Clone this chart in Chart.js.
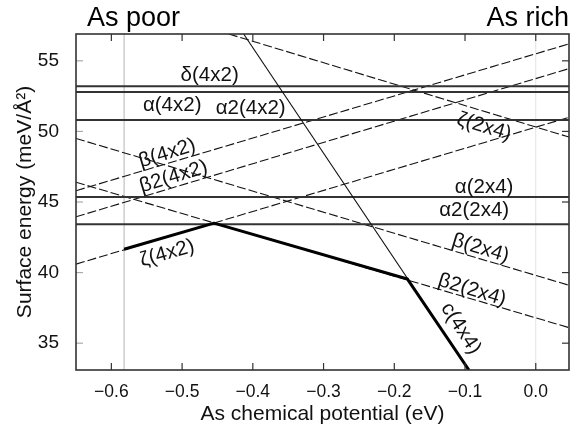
<!DOCTYPE html>
<html>
<head>
<meta charset="utf-8">
<script src="https://cdn.jsdelivr.net/npm/chart.js@4.4.1/dist/chart.umd.min.js"></script>
<style>
  html, body { margin: 0; padding: 0; background: #fff; }
  #wrap { width: 574px; height: 430px; }
</style>
</head>
<body>
<div id="wrap"><canvas id="chart" width="574" height="430"></canvas></div>
<script>
// axis range and ticks (As chemical potential in eV, surface energy in meV/A^2)
const muRange = [-0.65, 0.047];
const energyRange = [33.1, 56.9];
const xTicks = [-0.6, -0.5, -0.4, -0.3, -0.2, -0.1, 0.0];
const yTicks = [35, 40, 45, 50, 55];

// stoichiometric phases: flat lines
const flatNames = ["δ(4x2)", "α(4x2)", "α2(4x2)", "α(2x4)", "α2(2x4)"];
const flatEnergy = [53.2, 52.8, 50.8, 45.35, 43.42];

// sloped phases: energy at start / end of the visible stretch
const slopedNames = ["ζ(4x2)", "β(4x2)", "β2(4x2)", "ζ(2x4)", "β(2x4)", "β2(2x4)"];
const slopedMuStart = [-0.65, -0.65, -0.65, -0.434, -0.65, -0.65];
const slopedMuEnd = [0.047, 0.047, 0.047, 0.047, 0.047, 0.047];
const slopedStart = [40.6, 45.8, 43.95, 56.9, 49.5, 46.4];
const slopedEnd = [51.0, 56.2, 54.45, 49.6, 39.1, 36.1];

// c(4x4), steep
const c4x4Mu = [-0.413, -0.0945];
const c4x4E = [56.9, 33.1];

// lowest-energy envelope (thick)
const envelopeMu = [-0.582, -0.455, -0.1816, -0.0945];
const envelopeE = [41.65, 43.5, 39.55, 33.1];

// thin grey markers
const markerMu = [-0.582, 0.0];
const markerColors = ["#b4b4b4", "#e2e2e2"];

// in-plot labels: text, mu, energy, rotation in degrees
const notes = [
  ["δ(4x2)", -0.461, 53.99, 0],
  ["α(4x2)", -0.514, 51.86, 0],
  ["α2(4x2)", -0.403, 51.63, 0],
  ["β(4x2)", -0.521, 48.44, -17],
  ["β2(4x2)", -0.512, 46.78, -17],
  ["ζ(4x2)", -0.521, 41.36, -16],
  ["ζ(2x4)", -0.073, 50.32, 17],
  ["α(2x4)", -0.073, 46.07, 0],
  ["α2(2x4)", -0.087, 44.42, 0],
  ["β(2x4)", -0.078, 41.71, 17],
  ["β2(2x4)", -0.090, 38.76, 17],
  ["c(4x4)", -0.106, 36.04, 57],
];

const FONT = "'Liberation Sans', Arial, sans-serif";

const datasets = [];

markerMu.forEach((mu, i) => {
  datasets.push({
    data: [{ x: mu, y: energyRange[0] }, { x: mu, y: energyRange[1] }],
    borderColor: markerColors[i],
    borderWidth: 1,
    order: 5,
  });
});

slopedNames.forEach((name, i) => {
  datasets.push({
    label: name,
    data: [{ x: slopedMuStart[i], y: slopedStart[i] }, { x: slopedMuEnd[i], y: slopedEnd[i] }],
    borderColor: "#111",
    borderWidth: 1.1,
    borderDash: [9, 3],
    order: 4,
  });
});

flatNames.forEach((name, i) => {
  datasets.push({
    label: name,
    data: [{ x: muRange[0], y: flatEnergy[i] }, { x: muRange[1], y: flatEnergy[i] }],
    borderColor: "#333",
    borderWidth: 2,
    order: 3,
  });
});

datasets.push({
  label: "c(4x4)",
  data: c4x4Mu.map((mu, i) => ({ x: mu, y: c4x4E[i] })),
  borderColor: "#111",
  borderWidth: 1.1,
  order: 2,
});

datasets.push({
  label: "envelope",
  data: envelopeMu.map((mu, i) => ({ x: mu, y: envelopeE[i] })),
  borderColor: "#000",
  borderWidth: 3,
  borderJoinStyle: "round",
  order: 1,
});

const decorations = {
  id: "decorations",
  afterDatasetsDraw(chart) {
    const { ctx, chartArea: a, scales } = chart;
    const x = scales.x;
    const y = scales.y;
    ctx.save();

    // inward tick marks on all four sides
    ctx.lineWidth = 1.2;
    xTicks.forEach((v) => {
      const px = x.getPixelForValue(v);
      ctx.strokeStyle = "#333";
      ctx.beginPath();
      ctx.moveTo(px, a.bottom);
      ctx.lineTo(px, a.bottom - 7);
      ctx.moveTo(px, a.top);
      ctx.lineTo(px, a.top + 7);
      ctx.stroke();
    });
    yTicks.forEach((v) => {
      const py = y.getPixelForValue(v);
      ctx.strokeStyle = "#aaa";
      ctx.beginPath();
      ctx.moveTo(a.left, py);
      ctx.lineTo(a.left + 7, py);
      ctx.stroke();
      ctx.strokeStyle = "#333";
      ctx.beginPath();
      ctx.moveTo(a.right, py);
      ctx.lineTo(a.right - 7, py);
      ctx.stroke();
    });

    // frame
    ctx.strokeStyle = "#333";
    ctx.lineWidth = 1.6;
    ctx.strokeRect(a.left, a.top, a.right - a.left, a.bottom - a.top);

    // phase labels
    ctx.fillStyle = "#111";
    ctx.font = "20.5px " + FONT;
    ctx.textAlign = "center";
    ctx.textBaseline = "middle";
    notes.forEach(([text, mu, e, angle]) => {
      ctx.save();
      ctx.translate(x.getPixelForValue(mu), y.getPixelForValue(e));
      ctx.rotate((angle * Math.PI) / 180);
      ctx.fillText(text, 0, 0);
      ctx.restore();
    });

    // corner captions
    ctx.font = "27px " + FONT;
    ctx.textBaseline = "alphabetic";
    ctx.fillStyle = "#000";
    ctx.textAlign = "left";
    ctx.fillText("As poor", 87, 26);
    ctx.textAlign = "right";
    ctx.fillText("As rich", a.right, 26);

    ctx.restore();
  },
};

new Chart(document.getElementById("chart"), {
  type: "scatter",
  data: { datasets },
  options: {
    animation: false,
    responsive: false,
    devicePixelRatio: 1,
    showLine: true,
    elements: { point: { radius: 0, hoverRadius: 0 }, line: { tension: 0 } },
    layout: { padding: { top: 34, right: 5, left: 0, bottom: 0 } },
    plugins: { legend: { display: false }, tooltip: { enabled: false } },
    scales: {
      x: {
        type: "linear",
        min: muRange[0],
        max: muRange[1],
        grid: { display: false },
        border: { display: false },
        afterBuildTicks: (scale) => {
          scale.ticks = xTicks.map((v) => ({ value: v }));
        },
        afterFit: (scale) => {
          scale.height = 60;
        },
        ticks: {
          padding: 4,
          color: "#111",
          font: { family: FONT, size: 17.5 },
          callback: (v) => v.toFixed(1).replace("-", "−"),
        },
        title: {
          display: true,
          text: "As chemical potential (eV)",
          color: "#111",
          font: { family: FONT, size: 21 },
          padding: { top: 0, bottom: 3 },
        },
      },
      y: {
        type: "linear",
        min: energyRange[0],
        max: energyRange[1],
        grid: { display: false },
        border: { display: false },
        afterBuildTicks: (scale) => {
          scale.ticks = yTicks.map((v) => ({ value: v }));
        },
        afterFit: (scale) => {
          scale.width = 76;
        },
        ticks: {
          padding: 9,
          color: "#111",
          font: { family: FONT, size: 19 },
        },
        title: {
          display: true,
          text: "Surface energy (meV/Å²)",
          color: "#111",
          font: { family: FONT, size: 21 },
          padding: { top: 13, bottom: 0 },
        },
      },
    },
  },
  plugins: [decorations],
});
</script>
</body>
</html>
